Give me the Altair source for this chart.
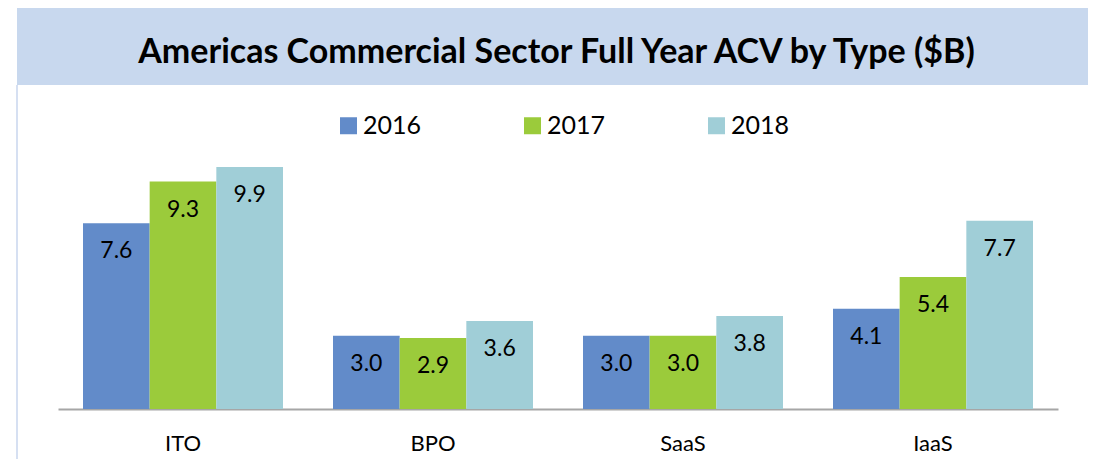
import altair as alt
import pandas as pd

categories = ["ITO", "BPO", "SaaS", "IaaS"]
years = ["2016", "2017", "2018"]
v2016 = [7.6, 3.0, 3.0, 4.1]
v2017 = [9.3, 2.9, 3.0, 5.4]
v2018 = [9.9, 3.6, 3.8, 7.7]
colors = ["#628BC9", "#9BCB3B", "#A0CED7"]
title_text = "Americas Commercial Sector Full Year ACV by Type ($B)"

rows = []
for yr, vals in zip(years, [v2016, v2017, v2018]):
    for c, v in zip(categories, vals):
        rows.append({"Type": c, "Year": yr, "ACV": v, "Label": f"{v:.1f}"})
df = pd.DataFrame(rows)
deco = pd.DataFrame({"t": [title_text]})

W, H = 1000, 244.5
FONT = "Lato"

x = alt.X("Type:N", sort=categories, title=None,
          scale=alt.Scale(paddingInner=0.2, paddingOuter=0.1),
          axis=alt.Axis(labelAngle=0, ticks=False, domainColor="#A6A6A6",
                        domainWidth=2, labelFont=FONT, labelFontSize=22,
                        labelColor="#000000", labelPadding=24, grid=False))
y = alt.Y("ACV:Q", scale=alt.Scale(domain=[0, 10], nice=False), axis=None)
xo = alt.XOffset("Year:N", sort=years, scale=alt.Scale(paddingInner=0, paddingOuter=0))

bars = alt.Chart(df).mark_bar().encode(
    x=x, xOffset=xo, y=y,
    color=alt.Color("Year:N", scale=alt.Scale(domain=years, range=colors),
                    legend=alt.Legend(orient="none", legendX=278, legendY=-51.5,
                                      direction="horizontal", title=None,
                                      symbolType="square", symbolSize=289,
                                      symbolStrokeWidth=0, labelFont=FONT,
                                      labelFontSize=25, labelOffset=2,
                                      columnPadding=98, padding=0,
                                      gridAlign="all",
                                      labelColor="#000000")),
)

labels = alt.Chart(df).mark_text(dy=28, baseline="middle", font=FONT,
                                 fontSize=23, color="#000000").encode(
    x=x, xOffset=xo, y=y, text="Label:N")

title_bar = alt.Chart(deco).mark_rect(color="#C8D8EE").encode(
    x=alt.value(-41), x2=alt.value(1032), y=alt.value(-157.5), y2=alt.value(-79.5))
title_txt = alt.Chart(deco).mark_text(font=FONT, fontWeight="bold", fontSize=34,
                                      align="center", baseline="alphabetic",
                                      color="#000000").encode(
    x=alt.value(498.5), y=alt.value(-102), text="t:N")
border_l = alt.Chart(deco).mark_rule(color="#D6E0F2", strokeWidth=2).encode(
    x=alt.value(-41), y=alt.value(-79.5), y2=alt.value(300))
border_r = alt.Chart(deco).mark_rule(color="#D6E0F2", strokeWidth=2).encode(
    x=alt.value(1032), y=alt.value(-79.5), y2=alt.value(300))

chart = alt.layer(title_bar, title_txt, border_l, border_r, bars, labels).properties(
    width=W, height=H,
    autosize=alt.AutoSizeParams(type="none"),
    padding={"left": 50, "top": 156.5, "right": 30, "bottom": 50},
).configure_view(stroke=None)

chart.save("out.html", embed_options={"renderer": "svg", "actions": False})
